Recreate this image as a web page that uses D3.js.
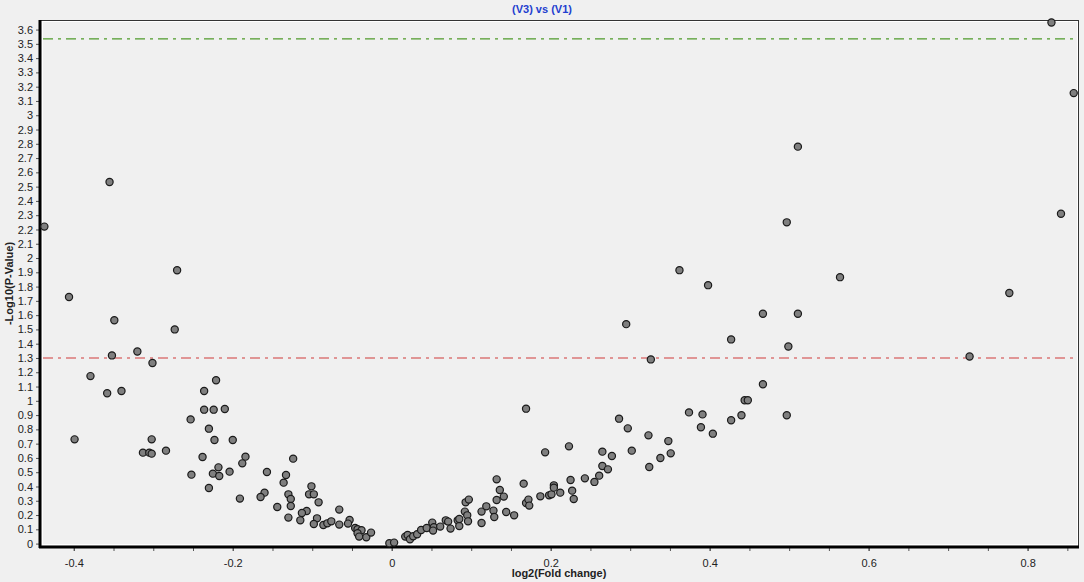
<!DOCTYPE html>
<html><head><meta charset="utf-8">
<script src="https://cdn.jsdelivr.net/npm/d3@7"></script>
<style>
html,body{margin:0;padding:0;background:#f0f0f0;}
svg{display:block;font-family:Arial,"Liberation Sans",sans-serif;}
</style></head>
<body><svg id="c" width="1084" height="582"></svg>
<script>
const titleText = "(V3) vs (V1)";
const xLabel = "log2(Fold change)";
const yLabel = "-Log10(P-Value)";
const xTickLabels = [-0.4, -0.2, 0, 0.2, 0.4, 0.6, 0.8];
const yTickValues = d3.range(0, 37).map(i => i / 10);
const pThreshold = 1.3;
const corrThreshold = 3.535;

const logFC = [
 -0.437,-0.406,-0.399,-0.379,-0.358,-0.355,-0.352,-0.349,-0.340,-0.320,
 -0.313,-0.305,-0.302,-0.302,-0.301,-0.284,-0.273,-0.270,-0.253,-0.252,
 -0.221,-0.236,-0.236,-0.224,-0.210,-0.230,-0.223,-0.200,-0.238,-0.184,
 -0.188,-0.124,-0.218,-0.225,-0.217,-0.204,-0.157,-0.133,-0.136,-0.230,
 -0.191,-0.160,-0.165,-0.130,-0.127,-0.144,-0.127,-0.130,
 -0.101,-0.104,-0.098,-0.092,-0.107,-0.113,-0.115,-0.066,-0.094,-0.098,
 -0.086,-0.081,-0.076,-0.066,-0.053,-0.055,-0.046,-0.043,-0.038,-0.043,
 -0.041,-0.032,-0.026,-0.003,0.003,
 0.017,0.020,0.023,0.027,0.032,0.037,0.044,0.051,0.053,0.052,
 0.061,0.068,0.071,0.074,0.083,0.085,0.085,0.093,0.097,0.092,
 0.095,0.096,0.113,0.119,0.113,0.128,0.129,0.132,0.136,0.132,
 0.141,0.144,0.154,0.166,0.169,0.172,0.173,0.187,0.193,0.198,
 0.169,0.201,0.223,0.204,0.204,0.212,0.225,0.227,0.229,0.243,
 0.255,0.261,0.265,0.265,0.272,0.277,0.286,0.297,0.302,0.323,
 0.324,0.338,0.348,0.351,0.374,0.391,0.389,0.404,0.427,0.440,
 0.444,0.448,0.467,0.497,0.362,0.295,0.326,0.398,0.427,0.467,
 0.497,0.499,0.511,0.511,0.564,0.727,0.777,0.830,0.842,0.858
];
const negLogP = [
 2.220,1.727,0.730,1.173,1.053,2.532,1.318,1.564,1.069,1.345,
 0.637,0.637,0.730,0.630,1.265,0.651,1.500,1.914,0.870,0.483,
 1.144,1.069,0.938,0.938,0.943,0.805,0.726,0.726,0.607,0.609,
 0.562,0.595,0.534,0.490,0.473,0.504,0.501,0.480,0.427,0.389,
 0.315,0.357,0.326,0.345,0.312,0.256,0.263,0.182,
 0.401,0.345,0.345,0.289,0.228,0.214,0.163,0.238,0.177,0.137,
 0.130,0.142,0.156,0.133,0.165,0.140,0.109,0.100,0.093,0.072,
 0.049,0.044,0.077,0.002,0.007,
 0.049,0.060,0.030,0.051,0.065,0.095,0.109,0.147,0.114,0.091,
 0.119,0.163,0.154,0.105,0.163,0.123,0.172,0.289,0.308,0.224,
 0.198,0.156,0.224,0.261,0.144,0.231,0.186,0.450,0.375,0.305,
 0.329,0.221,0.198,0.420,0.284,0.308,0.266,0.331,0.639,0.338,
 0.945,0.345,0.681,0.408,0.392,0.357,0.445,0.371,0.312,0.457,
 0.432,0.476,0.544,0.644,0.520,0.613,0.875,0.807,0.651,0.758,
 0.536,0.599,0.718,0.632,0.919,0.905,0.815,0.770,0.864,0.899,
 1.004,1.004,1.116,0.899,1.915,1.537,1.290,1.810,1.430,1.610,
 2.250,1.380,2.780,1.610,1.866,1.310,1.755,3.650,2.310,3.155
];

const svg = d3.select("#c");
const pL = 40, pR = 1078, pT = 20, pB = 547;
const x = d3.scaleLinear().domain([-0.4425, 0.8634]).range([pL, pR]);
const y = d3.scaleLinear().domain([-0.0238, 3.667]).range([pB, pT]);

// plot background + frame
svg.append("rect").attr("x", pL).attr("y", pT).attr("width", pR - pL).attr("height", pB - pT)
  .attr("fill", "#f0f0f0").attr("stroke", "none");
svg.append("line").attr("x1", pL).attr("x2", pR).attr("y1", pT + 0.5).attr("y2", pT + 0.5).attr("stroke", "#333").attr("stroke-width", 1);
svg.append("line").attr("x1", pL).attr("x2", pR).attr("y1", pT + 1.5).attr("y2", pT + 1.5).attr("stroke", "#fff").attr("stroke-width", 1);
svg.append("line").attr("x1", pR + 0.5).attr("x2", pR + 0.5).attr("y1", pT).attr("y2", pB).attr("stroke", "#333").attr("stroke-width", 1);
svg.append("line").attr("x1", pR - 0.5).attr("x2", pR - 0.5).attr("y1", pT + 1).attr("y2", pB - 2).attr("stroke", "#fff").attr("stroke-width", 1);
svg.append("line").attr("x1", pL + 2.5).attr("x2", pL + 2.5).attr("y1", pT + 1).attr("y2", pB - 2).attr("stroke", "#fff").attr("stroke-width", 1);
svg.append("line").attr("x1", pL + 2).attr("x2", pR).attr("y1", pB - 2.5).attr("y2", pB - 2.5).attr("stroke", "#fff").attr("stroke-width", 1);

// axes
const yAxis = d3.axisLeft(y).tickValues(yTickValues).tickSize(4).tickPadding(3)
  .tickFormat(d => String(+d.toFixed(1)));
const gy = svg.append("g").attr("transform", `translate(${pL},0)`).call(yAxis);
gy.select(".domain").remove();
gy.selectAll(".tick line").attr("stroke", "#555");
gy.selectAll(".tick text").attr("font-size", 11).attr("fill", "#222").attr("font-family", "Arial, Liberation Sans, sans-serif");

const xMinor = d3.range(-0.4, 0.86, 0.05).map(v => +v.toFixed(2));
const xAxisMinor = d3.axisBottom(x).tickValues(xMinor).tickSize(4).tickFormat("");
const gxm = svg.append("g").attr("transform", `translate(0,${pB})`).call(xAxisMinor);
gxm.select(".domain").remove();
gxm.selectAll(".tick line").attr("stroke", "#555");
const xAxis = d3.axisBottom(x).tickValues(xTickLabels).tickSize(4).tickPadding(8)
  .tickFormat(d => String(+d.toFixed(1)));
const gx = svg.append("g").attr("transform", `translate(0,${pB})`).call(xAxis);
gx.select(".domain").remove();
gx.selectAll(".tick line").attr("stroke", "#555");
gx.selectAll(".tick text").attr("font-size", 11).attr("fill", "#222").attr("font-family", "Arial, Liberation Sans, sans-serif");

// thick left & bottom axis lines
svg.append("line").attr("x1", pL).attr("x2", pL).attr("y1", pT).attr("y2", pB + 1)
  .attr("stroke", "#000").attr("stroke-width", 3);
svg.append("line").attr("x1", pL - 1).attr("x2", pR + 1).attr("y1", pB).attr("y2", pB)
  .attr("stroke", "#000").attr("stroke-width", 3);

// threshold lines
svg.append("line").attr("x1", pL + 3).attr("x2", pR - 1)
  .attr("y1", y(pThreshold)).attr("y2", y(pThreshold))
  .attr("stroke", "#d03a3a").attr("stroke-width", 1.2).attr("stroke-dasharray", "10,5,3,5");
svg.append("line").attr("x1", pL + 3).attr("x2", pR - 1)
  .attr("y1", y(corrThreshold)).attr("y2", y(corrThreshold))
  .attr("stroke", "#4e9a2a").attr("stroke-width", 1.2).attr("stroke-dasharray", "10,5,3,5");

// points
const pts = logFC.map((v, i) => ({x: v, y: negLogP[i]}));
svg.append("g").selectAll("circle").data(pts).join("circle")
  .attr("cx", d => x(d.x)).attr("cy", d => y(d.y)).attr("r", 3.6)
  .attr("fill", "#7f7f7f").attr("stroke", "#1a1a1a").attr("stroke-width", 1.2);

// title & labels
svg.append("text").attr("x", 542).attr("y", 13).attr("text-anchor", "middle")
  .attr("font-size", 11).attr("font-weight", "bold").attr("fill", "#1f3fcf").text(titleText);
svg.append("text").attr("x", 559).attr("y", 577).attr("text-anchor", "middle")
  .attr("font-size", 11).attr("font-weight", "bold").attr("fill", "#222").text(xLabel);
svg.append("text").attr("transform", `translate(13,${(pT + pB) / 2}) rotate(-90)`)
  .attr("text-anchor", "middle").attr("font-size", 11).attr("font-weight", "bold").attr("fill", "#222").text(yLabel);
</script></body></html>
